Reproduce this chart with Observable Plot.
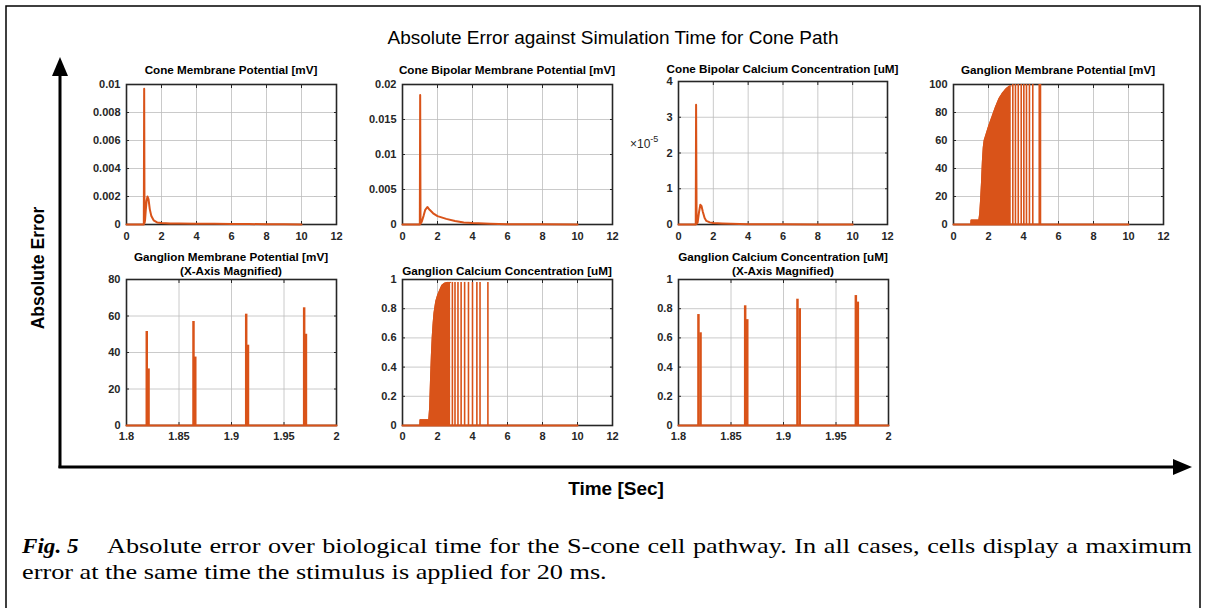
<!DOCTYPE html>
<html><head><meta charset="utf-8">
<script src="https://cdn.jsdelivr.net/npm/d3@7"></script>
<script src="https://cdn.jsdelivr.net/npm/@observablehq/plot@0.6"></script>
<style>
body{margin:0;background:#fff;}
#root{position:relative;width:1206px;height:608px;overflow:hidden;background:#fff;}
.panel{position:absolute;}
#overlay{position:absolute;left:0;top:0;}
.cap{position:absolute;font-family:"Liberation Serif","Times New Roman",serif;font-size:21px;line-height:26px;color:#000;white-space:nowrap;transform-origin:0 50%;}
</style></head><body><div id="root"></div>
<script>
const ORANGE = "#D95319";

// ---- tick values and labels ----
const timeTicks = [0, 2, 4, 6, 8, 10, 12];
const timeTickLabels = ["0", "2", "4", "6", "8", "10", "12"];
const magTicks = [1.8, 1.85, 1.9, 1.95, 2];
const magTickLabels = ["1.8", "1.85", "1.9", "1.95", "2"];
const coneVmTicks = [0, 0.002, 0.004, 0.006, 0.008, 0.01];
const coneVmTickLabels = ["0", "0.002", "0.004", "0.006", "0.008", "0.01"];
const cbVmTicks = [0, 0.005, 0.01, 0.015, 0.02];
const cbVmTickLabels = ["0", "0.005", "0.01", "0.015", "0.02"];
const cbCaTicks = [0, 1, 2, 3, 4];            // ×10^-5
const cbCaTickLabels = ["0", "1", "2", "3", "4"];
const gVmTicks = [0, 20, 40, 60, 80, 100];
const gVmTickLabels = ["0", "20", "40", "60", "80", "100"];
const gVmMagTicks = [0, 20, 40, 60, 80];
const gVmMagTickLabels = ["0", "20", "40", "60", "80"];
const gCaTicks = [0, 0.2, 0.4, 0.6, 0.8, 1];
const gCaTickLabels = ["0", "0.2", "0.4", "0.6", "0.8", "1"];

// ---- Cone membrane potential error [mV] ----
const coneVmT   = [0, 0.99, 1.01, 1.03, 1.06, 1.1, 1.15, 1.2, 1.26, 1.33, 1.42, 1.55, 1.75, 2.0, 2.5, 3.0, 4.0, 5.0, 6.0, 7.0, 8.0, 9.0, 10.0];
const coneVmErr = [0, 0, 0.0097, 0.0001, 0.0003, 0.0010, 0.0017, 0.0020, 0.0018, 0.0011, 0.0006, 0.0003, 0.00015, 0.0001, 0.00008, 0.00007, 0.00006, 0.00005, 0.00004, 0.00003, 0.00002, 0.00001, 0];

// ---- Cone bipolar membrane potential error [mV] ----
const cbVmT   = [0, 0.99, 1.01, 1.03, 1.1, 1.2, 1.3, 1.42, 1.55, 1.75, 2.0, 2.5, 3.0, 3.5, 4.0, 5.0, 6.0, 8.0, 10.0];
const cbVmErr = [0, 0, 0.0185, 0.0001, 0.0004, 0.0012, 0.0021, 0.0025, 0.0021, 0.0016, 0.0012, 0.0008, 0.0005, 0.0003, 0.0002, 0.0001, 0.00005, 0.00002, 0];

// ---- Cone bipolar calcium error [uM ×10^-5] ----
const cbCaT   = [0, 0.99, 1.01, 1.04, 1.1, 1.18, 1.25, 1.32, 1.4, 1.5, 1.6, 1.8, 2.0, 2.5, 3.0, 4.0, 6.0, 8.0, 10.0];
const cbCaErr = [0, 0, 3.35, 0.02, 0.06, 0.35, 0.55, 0.52, 0.35, 0.18, 0.1, 0.06, 0.04, 0.03, 0.02, 0.01, 0.005, 0.002, 0];

// ---- Ganglion membrane potential error [mV] ----
const gVmEnvT = [0.99, 1.0, 1.45, 1.5, 1.55, 1.6, 1.65, 1.7, 1.75, 1.85, 2.0, 2.2, 2.4, 2.6, 2.8, 3.0, 3.2, 3.3];
const gVmEnvV = [0, 3.2, 3.2, 8, 18, 30, 45, 55, 60, 64, 70, 77, 84, 90, 94, 97, 99, 99];
const gVmSpikeT = [3.39, 3.54, 3.70, 3.87, 4.02, 4.17, 4.34, 4.53, 4.90, 4.97];
const gVmSpikeV = [100, 100, 100, 100, 100, 100, 100, 100, 100, 100];
const gBaseT = [0, 10];
const gBaseV = [0, 0];

// ---- Ganglion calcium error [uM] ----
const gCaEnvT = [0.99, 1.0, 1.5, 1.55, 1.6, 1.65, 1.7, 1.75, 1.8, 1.9, 2.0, 2.1, 2.25, 2.4, 2.55, 2.75];
const gCaEnvV = [0, 0.04, 0.04, 0.12, 0.31, 0.48, 0.61, 0.70, 0.77, 0.85, 0.89, 0.92, 0.96, 0.975, 0.98, 0.98];
const gCaSpikeT = [2.85, 3.0, 3.17, 3.35, 3.55, 3.77, 4.0, 4.25, 4.43, 4.88];
const gCaSpikeV = [0.98, 0.98, 0.98, 0.98, 0.98, 0.98, 0.98, 0.98, 0.98, 0.98];

// ---- Ganglion membrane potential, magnified ----
const gVmMagPeakT = [1.8193, 1.8638, 1.9140, 1.9692];
const gVmMagPeakV = [51.5, 57, 61, 64.5];
const gVmMagShoulderT = [1.8210, 1.8655, 1.9157, 1.9709];
const gVmMagShoulderV = [31, 37.5, 44, 50];
const magBaseT = [1.8, 2.0];
const magBaseV = [0, 0];

// ---- Ganglion calcium, magnified ----
const gCaMagPeakT = [1.8190, 1.8635, 1.9133, 1.9689];
const gCaMagPeakV = [0.76, 0.82, 0.865, 0.89];
const gCaMagShoulderT = [1.8210, 1.8655, 1.9155, 1.9708];
const gCaMagShoulderV = [0.635, 0.725, 0.80, 0.845];

// ---- helpers ----
const rows = (T, V) => T.map((t, i) => ({t, v: V[i]}));
const line = (T, V, w = 2) => Plot.line(rows(T, V), {x: "t", y: "v", stroke: ORANGE, strokeWidth: w});
const area = (T, V) => [Plot.areaY(rows(T, V), {x: "t", y: "v", fill: ORANGE}),
                        Plot.line(rows(T, V), {x: "t", y: "v", stroke: ORANGE, strokeWidth: 1})];
const spikes = (T, V, w = 1.6) => Plot.ruleX(rows(T, V), {x: "t", y1: 0, y2: "v", stroke: ORANGE, strokeWidth: w});
const fmt = (ticks, labels) => d => { const i = ticks.findIndex(t => Math.abs(t - d) < 1e-9); return i < 0 ? "" : labels[i]; };

const ML = 48, MR = 10, MT = 6, MB = 24;
const INK = "#262626";

function panel(c) {
  const marks = [
    Plot.gridX(c.xt, {stroke: "#bdbdbd", strokeOpacity: 1, strokeWidth: 0.8}),
    Plot.gridY(c.yt, {stroke: "#bdbdbd", strokeOpacity: 1, strokeWidth: 0.8}),
    Plot.frame({stroke: INK, strokeWidth: 1.6}),
    Plot.axisX(c.xt, {anchor: "bottom", tickSize: 0, tickPadding: c.xpad, tickFormat: fmt(c.xt, c.xl), label: null, fill: INK}),
    Plot.axisY(c.yt, {anchor: "left", tickSize: 0, tickPadding: 6, tickFormat: fmt(c.yt, c.yl), label: null, fill: INK}),
    Plot.axisX(c.xt, {anchor: "bottom", tickSize: -3, tickFormat: () => "", label: null, stroke: INK}),
    Plot.axisX(c.xt, {anchor: "top", tickSize: -3, tickFormat: () => "", label: null, stroke: INK}),
    Plot.axisY(c.yt, {anchor: "left", tickSize: -3, tickFormat: () => "", label: null, stroke: INK}),
    Plot.axisY(c.yt, {anchor: "right", tickSize: -3, tickFormat: () => "", label: null, stroke: INK}),
    ...c.marks
  ];
  const svg = Plot.plot({
    width: c.w + ML + MR, height: c.h + MT + MB,
    marginLeft: ML, marginRight: MR, marginTop: MT, marginBottom: MB,
    x: {domain: c.xd, label: null},
    y: {domain: c.yd, label: null},
    style: {fontFamily: "'Liberation Sans', Arial, sans-serif", fontSize: "11px", fontWeight: "bold", color: INK, background: "transparent", overflow: "visible"},
    marks
  });
  svg.classList.add("panel");
  svg.style.position = "absolute";
  svg.style.left = (c.left - ML) + "px";
  svg.style.top = (c.top - MT) + "px";
  return svg;
}

const panels = [
  {left: 126, top: 84, w: 210, h: 140, xd: [0, 12], xt: timeTicks, xl: timeTickLabels, xpad: 8,
   yd: [0, 0.01], yt: coneVmTicks, yl: coneVmTickLabels,
   title: ["Cone Membrane Potential [mV]"], ty: [74],
   marks: [line(coneVmT, coneVmErr)]},
  {left: 402, top: 84, w: 210, h: 140, xd: [0, 12], xt: timeTicks, xl: timeTickLabels, xpad: 8,
   yd: [0, 0.02], yt: cbVmTicks, yl: cbVmTickLabels,
   title: ["Cone Bipolar Membrane Potential [mV]"], ty: [74],
   marks: [line(cbVmT, cbVmErr)]},
  {left: 678, top: 81, w: 209, h: 143, xd: [0, 12], xt: timeTicks, xl: timeTickLabels, xpad: 8,
   yd: [0, 4], yt: cbCaTicks, yl: cbCaTickLabels,
   title: ["Cone Bipolar Calcium Concentration [uM]"], ty: [73],
   marks: [line(cbCaT, cbCaErr)]},
  {left: 953, top: 84, w: 210, h: 140, xd: [0, 12], xt: timeTicks, xl: timeTickLabels, xpad: 8,
   yd: [0, 100], yt: gVmTicks, yl: gVmTickLabels,
   title: ["Ganglion Membrane Potential [mV]"], ty: [74],
   marks: [line(gBaseT, gBaseV), ...area(gVmEnvT, gVmEnvV), spikes(gVmSpikeT, gVmSpikeV)]},
  {left: 126, top: 279, w: 210, h: 146, xd: [1.8, 2], xt: magTicks, xl: magTickLabels, xpad: 7,
   yd: [0, 80], yt: gVmMagTicks, yl: gVmMagTickLabels,
   title: ["Ganglion Membrane Potential [mV]", "(X-Axis Magnified)"], ty: [261, 275],
   marks: [line(magBaseT, magBaseV), spikes(gVmMagPeakT, gVmMagPeakV, 2.5), spikes(gVmMagShoulderT, gVmMagShoulderV, 2.5)]},
  {left: 402, top: 279, w: 210, h: 146, xd: [0, 12], xt: timeTicks, xl: timeTickLabels, xpad: 7,
   yd: [0, 1], yt: gCaTicks, yl: gCaTickLabels,
   title: ["Ganglion Calcium Concentration [uM]"], ty: [275],
   marks: [line(gBaseT, gBaseV), ...area(gCaEnvT, gCaEnvV), spikes(gCaSpikeT, gCaSpikeV)]},
  {left: 678, top: 279, w: 210, h: 146, xd: [1.8, 2], xt: magTicks, xl: magTickLabels, xpad: 7,
   yd: [0, 1], yt: gCaTicks, yl: gCaTickLabels,
   title: ["Ganglion Calcium Concentration [uM]", "(X-Axis Magnified)"], ty: [261, 275],
   marks: [line(magBaseT, magBaseV), spikes(gCaMagPeakT, gCaMagPeakV, 2.5), spikes(gCaMagShoulderT, gCaMagShoulderV, 2.5)]}
];

const root = document.getElementById("root");
const NS = "http://www.w3.org/2000/svg";
const ov = document.createElementNS(NS, "svg");
ov.setAttribute("id", "overlay");
ov.setAttribute("width", 1206);
ov.setAttribute("height", 608);
function el(tag, attrs, text) {
  const e = document.createElementNS(NS, tag);
  for (const k in attrs) e.setAttribute(k, attrs[k]);
  if (text != null) e.textContent = text;
  ov.appendChild(e);
  return e;
}
// outer frame
el("rect", {x: 6, y: 6, width: 1194, height: 620, fill: "none", stroke: "#000", "stroke-width": 1.5});
// axis arrows
el("line", {x1: 60, y1: 468, x2: 60, y2: 72, stroke: "#000", "stroke-width": 3});
el("polygon", {points: "60,57 52,76 68,76", fill: "#000"});
el("line", {x1: 58.5, y1: 467, x2: 1176, y2: 467, stroke: "#000", "stroke-width": 3});
el("polygon", {points: "1192,467 1173,459 1173,475", fill: "#000"});
// titles
const SANS = "'Liberation Sans', Arial, sans-serif";
el("text", {x: 613, y: 44, "text-anchor": "middle", "font-family": SANS, "font-size": 19, fill: "#000"},
   "Absolute Error against Simulation Time for Cone Path");
el("text", {x: 0, y: 0, transform: "translate(44,268) rotate(-90)", "text-anchor": "middle", "font-family": SANS, "font-size": 17.5, "font-weight": "bold", fill: "#000"}, "Absolute Error");
el("text", {x: 616, y: 495, "text-anchor": "middle", "font-family": SANS, "font-size": 19, "font-weight": "bold", fill: "#000"}, "Time [Sec]");
for (const c of panels) {
  c.title.forEach((t, i) => el("text", {x: c.left + c.w / 2, y: c.ty[i], "text-anchor": "middle", "font-family": SANS, "font-size": 11.7, "font-weight": "bold", fill: "#000"}, t));
}
// exponent label of the cone bipolar calcium panel
const ex = el("text", {x: 630, y: 148, "font-family": SANS, "font-size": 12, fill: INK}, "×10");
const sup = document.createElementNS(NS, "tspan");
sup.setAttribute("dy", -6); sup.setAttribute("font-size", 9); sup.textContent = "-5";
ex.appendChild(sup);
root.appendChild(ov);

for (const c of panels) root.appendChild(panel(c));

// caption (the source figure's caption type is horizontally stretched)
const fig = document.createElement("div");
fig.className = "cap";
fig.style.left = "22px"; fig.style.top = "533px"; fig.style.transform = "scaleX(1.1)";
fig.innerHTML = "<b><i>Fig. 5</i></b>";
root.appendChild(fig);
const l1 = document.createElement("div");
l1.className = "cap";
l1.style.left = "107px"; l1.style.top = "533px"; l1.style.width = "868px";
l1.style.whiteSpace = "normal"; l1.style.textAlign = "justify"; l1.style.textAlignLast = "justify";
l1.style.transform = "scaleX(1.25)";
l1.textContent = "Absolute error over biological time for the S-cone cell pathway. In all cases, cells display a maximum";
root.appendChild(l1);
const l2 = document.createElement("div");
l2.className = "cap";
l2.style.left = "22px"; l2.style.top = "559px"; l2.style.transform = "scaleX(1.25)";
l2.textContent = "error at the same time the stimulus is applied for 20 ms.";
root.appendChild(l2);
</script></body></html>
